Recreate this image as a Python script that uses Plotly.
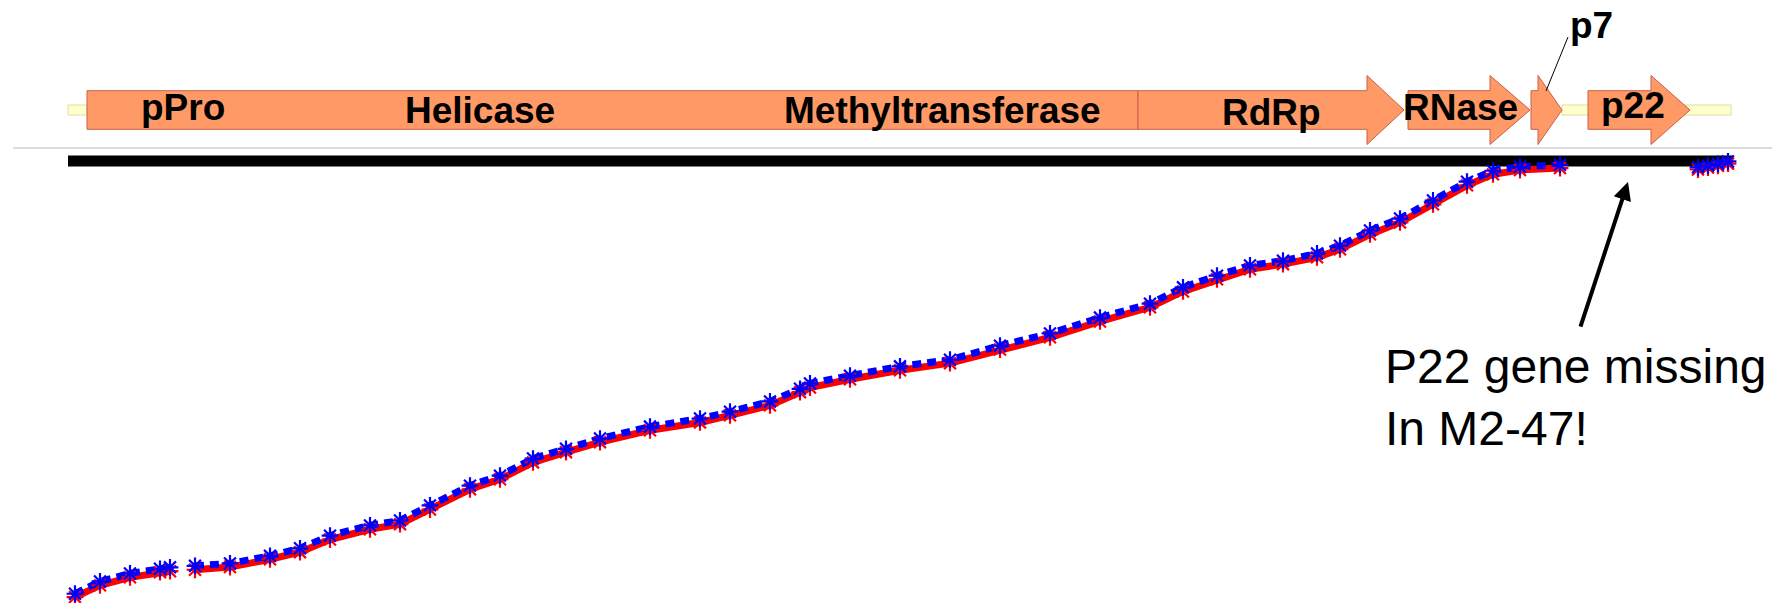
import plotly.graph_objects as go

# ---------------- data (nucleotide positions) ----------------
genome_length = 9990

# ORFs drawn on the genome map
orf_names = ["Polyprotein", "RdRp", "RNase", "p7", "p22"]
orf_start = [114, 6420, 8040, 8778, 9120]
orf_head = [None, 7794, 8532, 8820, 9498]   # where the arrow head begins
orf_end = [6420, 8016, 8772, 8964, 9732]

# untranslated regions (pale yellow)
utr_start = [0, 8964]
utr_end = [114, 9978]

# domain / gene labels
label_names = ["pPro", "Helicase", "Methyltransferase", "RdRp", "RNase", "p22"]
label_pos = [690, 2472, 5244, 7218, 8352, 9390]
p7_label = "p7"
p7_label_pos = 9138

# dot-plot alignment (reference position vs. M2-47 position)
blue_x = [42, 192, 372, 552, 612, None, 762, 972, 1212, 1392, 1572, 1812, 1992, 2172, 2412, 2592,
          2790, 2988, 3192, 3492, 3792, 3972, 4212, 4392, 4452, 4692, 4992, 5292, 5592, 5892,
          6192, 6492, 6690, 6894, 7092, 7290, 7494, 7632, 7812, 7992, 8190, 8394, 8550, 8712, 8952,
          None, 9780, 9840, 9900, 9960]
blue_y = [128, 380, 545, 640, 670, None, 700, 750, 905, 1060, 1320, 1530, 1630, 1940, 2345, 2550,
          2900, 3100, 3310, 3555, 3720, 3860, 4070, 4330, 4440, 4600, 4790, 4925, 5215, 5465,
          5790, 6075, 6410, 6650, 6860, 6955, 7105, 7265, 7575, 7820, 8190, 8575, 8800, 8880, 8920,
          None, 8870, 8905, 8940, 8990]
red_x = [42, 192, 372, 552, 612, None, 762, 972, 1212, 1392, 1572, 1812, 1992, 2172, 2412, 2592,
         2790, 2988, 3192, 3492, 3792, 3972, 4212, 4392, 4452, 4692, 4992, 5292, 5592, 5892,
         6192, 6492, 6690, 6894, 7092, 7290, 7494, 7632, 7812, 7992, 8190, 8394, 8550, 8712, 8952,
         None, 9780, 9840, 9900, 9960]
red_y = [60, 300, 465, 570, 590, None, 620, 675, 835, 980, 1240, 1450, 1555, 1855, 2270, 2475,
         2820, 3030, 3235, 3480, 3640, 3785, 3990, 4260, 4355, 4525, 4710, 4855, 5135, 5385,
         5710, 6000, 6325, 6575, 6780, 6885, 7025, 7190, 7495, 7740, 8110, 8500, 8725, 8815, 8855,
         None, 8825, 8865, 8900, 8945]

note_text = "P22 gene missing<br>In M2-47!"
note_x = 7890
arrow_head_x = 9360
arrow_tail_x = 9072

# ---------------- styles ----------------
ORANGE = "#FF9966"
ORANGE_EDGE = "#C8604A"
UTR_FILL = "#FFFFCC"
UTR_EDGE = "#DEDEA0"
RED = "#FF0000"
BLUE = "#0000FF"
BODY = 0.56     # half height of ORF body (track units)
HEAD = 1.0      # half height of arrow head
UTR_H = 0.145
LABEL_FONT = dict(family="Liberation Sans, Arial, sans-serif", size=37, color="black")

fig = go.Figure()

# separator line and reference bar
fig.add_trace(go.Scatter(x=[-330, 10600], y=[-1.10, -1.10], mode="lines",
                         line=dict(color="#DCDCDC", width=2), yaxis="y", hoverinfo="skip"))
fig.add_trace(go.Scatter(x=[0, genome_length], y=[-1.478, -1.478], mode="lines",
                         line=dict(color="black", width=11), yaxis="y", hoverinfo="skip"))

# UTRs
for s, e in zip(utr_start, utr_end):
    fig.add_trace(go.Scatter(x=[s, e, e, s, s], y=[-UTR_H, -UTR_H, UTR_H, UTR_H, -UTR_H],
                             mode="lines", fill="toself", fillcolor=UTR_FILL,
                             line=dict(color=UTR_EDGE, width=1), yaxis="y", hoverinfo="skip"))

# ORFs
for name, s, h, e in zip(orf_names, orf_start, orf_head, orf_end):
    if h is None:
        xs = [s, e, e, s, s]
        ys = [-BODY, -BODY, BODY, BODY, -BODY]
    else:
        xs = [s, h, h, e, h, h, s, s]
        ys = [-BODY, -BODY, -HEAD, 0, HEAD, BODY, BODY, -BODY]
    fig.add_trace(go.Scatter(x=xs, y=ys, mode="lines", fill="toself", fillcolor=ORANGE,
                             line=dict(color=ORANGE_EDGE, width=1), yaxis="y",
                             name=name, hoverinfo="name"))

# p7 leader line
fig.add_trace(go.Scatter(x=[9000, 8868], y=[2.116, 0.55], mode="lines",
                         line=dict(color="black", width=1), yaxis="y", hoverinfo="skip"))

# dot plot (on top)
fig.add_trace(go.Scatter(x=red_x, y=red_y, mode="lines", yaxis="y2", name="red",
                         line=dict(color=RED, width=7), connectgaps=False))
fig.add_trace(go.Scatter(x=blue_x, y=blue_y, mode="lines", yaxis="y2", name="blue",
                         line=dict(color=BLUE, width=7, dash="9px,6px"), connectgaps=False))
fig.add_trace(go.Scatter(x=red_x, y=red_y, mode="markers", yaxis="y2",
                         marker=dict(symbol="asterisk-open", size=14, color=RED,
                                     line=dict(color=RED, width=2.2))))
fig.add_trace(go.Scatter(x=blue_x, y=blue_y, mode="markers", yaxis="y2",
                         marker=dict(symbol="asterisk-open", size=14, color=BLUE,
                                     line=dict(color=BLUE, width=2.2))))

annotations = []
label_dy = [0.06, 0.0, 0.0, -0.06, 0.06, 0.12]
for name, x, dy in zip(label_names, label_pos, label_dy):
    annotations.append(dict(x=x, y=dy, xref="x", yref="y", text="<b>%s</b>" % name,
                            showarrow=False, font=LABEL_FONT, xanchor="center", yanchor="middle"))
annotations.append(dict(x=p7_label_pos, y=2.45, xref="x", yref="y", text="<b>%s</b>" % p7_label,
                        showarrow=False, font=LABEL_FONT, xanchor="center", yanchor="middle"))
annotations.append(dict(x=note_x, y=-6.62, xref="x", yref="y", text=note_text, align="left",
                        showarrow=False, xanchor="left", yanchor="top",
                        font=dict(family="Liberation Sans, Arial, sans-serif", size=48, color="black")))
annotations.append(dict(x=arrow_head_x, y=-2.087, xref="x", yref="y",
                        ax=arrow_tail_x, ay=-6.319, axref="x", ayref="y", text="",
                        showarrow=True, arrowhead=2, arrowsize=0.9, arrowwidth=4, arrowcolor="black"))

# the page body has an 8 px margin, so the axis ranges are offset by 8 px
fig.update_layout(
    width=1780, height=603, margin=dict(l=0, r=0, t=0, b=0),
    paper_bgcolor="white", plot_bgcolor="white", showlegend=False,
    xaxis=dict(range=[-360, 10320], visible=False, fixedrange=True),
    yaxis=dict(range=[-14.522, 2.957], visible=False, fixedrange=True),
    yaxis2=dict(range=[-225.5, 12136], visible=False, overlaying="y", fixedrange=True),
    annotations=annotations,
)

fig.write_html("out.html")
